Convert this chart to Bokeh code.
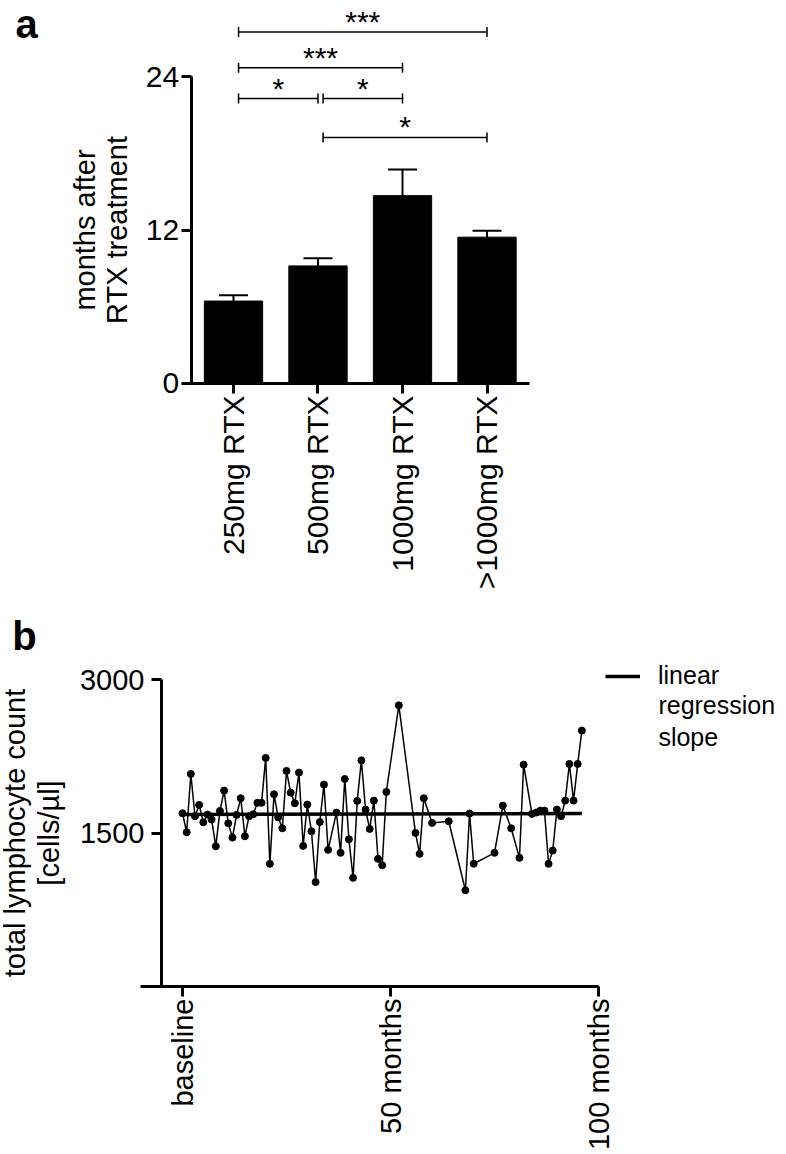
import math
from bokeh.plotting import figure
from bokeh.models import (FixedTicker, Whisker, TeeHead, ColumnDataSource, Label,
                          Legend, LegendItem, Range1d)
from bokeh.layouts import column
from bokeh.embed import file_html
from bokeh.resources import INLINE
from bokeh.core.properties import value

# ---------------- data ----------------
categories = ["250mg RTX", "500mg RTX", "1000mg RTX", ">1000mg RTX"]
months_mean = [6.45, 9.2, 14.7, 11.45]
months_sem = [0.45, 0.6, 2.05, 0.5]

comp_from = [0, 0, 0, 1, 1]
comp_to = [3, 2, 1, 2, 3]
comp_label = ["***", "***", "*", "*", "*"]

month = [0, 1, 2, 3, 4, 5, 6, 7, 8, 9, 10, 11, 12, 13, 14, 15, 16, 17, 18, 19,
         20, 21, 22, 23, 24, 25, 26, 27, 28, 29, 30, 31, 32, 33, 34, 35,
         37, 38, 39, 40, 41, 42, 43, 44, 45, 46, 47, 48, 49,
         52, 56, 57, 58, 60, 64, 68, 69, 70, 75, 77, 79, 81, 82,
         84, 85, 86, 87, 88, 89, 90, 91, 92, 93, 94, 95, 96]
lymphocytes = [1695, 1509, 2080, 1666, 1777, 1607, 1682, 1633, 1372, 1718,
               1917, 1597, 1457, 1679, 1842, 1470, 1666, 1685, 1797, 1797,
               2237, 1200, 1881, 1656, 1548, 2110, 1897, 1793, 2093, 1376,
               1780, 1519, 1022, 1609, 1976, 1337,
               1702, 1308, 2031, 1441, 1063, 1816, 2213, 1731, 1542, 1819,
               1249, 1186, 1904,
               2751, 1503, 1298, 1842, 1601, 1617, 942, 1692, 1201, 1308,
               1770, 1548, 1259, 2171,
               1689, 1702, 1721, 1721, 1200, 1330, 1731, 1666, 1819, 2178,
               1819, 2178, 2504]
# linear regression fit (value at first and last month)
regression_fit = [1683, 1693]

x_ticks_b = [0, 50, 100]
x_tick_labels_b = ["baseline", "50 months", "100 months"]
y_ticks_a = [0, 12, 24]
y_ticks_b = [1500, 3000]

# ---------------- layout constants ----------------
FONT = "Liberation Sans"
bracket_levels = [27.5, 24.7, 22.3, 22.3, 19.25]
bracket_inset = 0.06


def style_axes(p, tick_font, label_font, y_standoff):
    for ax in (p.xaxis[0], p.yaxis[0]):
        ax.axis_line_width = 3
        ax.axis_line_color = "black"
        ax.major_tick_line_width = 3
        ax.major_tick_line_color = "black"
        ax.major_tick_out = 10
        ax.major_tick_in = 0
        ax.minor_tick_line_color = None
        ax.major_label_text_font = FONT
        ax.major_label_text_font_size = tick_font
        ax.major_label_text_color = "black"
        ax.axis_label_text_font = FONT
        ax.axis_label_text_font_size = label_font
        ax.axis_label_text_font_style = "normal"
        ax.axis_label_text_color = "black"
    p.yaxis[0].major_label_standoff = y_standoff
    p.xaxis[0].major_label_standoff = 2
    p.xaxis[0].major_label_orientation = math.pi / 2
    p.xgrid.visible = False
    p.ygrid.visible = False
    p.outline_line_color = None


# ---------------- panel a ----------------
pa = figure(frame_width=786, frame_height=613,
            x_range=Range1d(-2.757, 6.544), y_range=Range1d(-18.0, 29.97),
            min_border_left=0, min_border_right=0, min_border_top=0,
            min_border_bottom=0, output_backend="svg", toolbar_location=None)

xs = list(range(len(categories)))
src_a = ColumnDataSource(dict(x=xs, top=months_mean,
                              upper=[m + s for m, s in zip(months_mean, months_sem)]))
pa.vbar(x="x", top="top", width=0.69, source=src_a, fill_color="black",
        line_color="black")
pa.add_layout(Whisker(source=src_a, base="x", lower="top", upper="upper",
                      lower_head=None,
                      upper_head=TeeHead(size=29, line_width=2, line_color="black"),
                      line_width=2, line_color="black"))

bx0 = [f + bracket_inset for f in comp_from]
bx1 = [t for t in comp_to]
src_br = ColumnDataSource(dict(x0=bx0, x1=bx1, y=bracket_levels,
                               xm=[(a + b) / 2 for a, b in zip(bx0, bx1)],
                               lab=comp_label))
pa.add_layout(Whisker(source=src_br, dimension="width", base="y", lower="x0",
                      upper="x1",
                      lower_head=TeeHead(size=10, line_width=1.5, line_color="black"),
                      upper_head=TeeHead(size=10, line_width=1.5, line_color="black"),
                      line_width=1.5, line_color="black"))
pa.text(x="xm", y="y", text="lab", source=src_br, text_align="center",
        text_baseline="bottom", y_offset=6, text_font=value(FONT),
        text_font_size="30px", text_color="black")

pa.xaxis[0].ticker = FixedTicker(ticks=xs)
pa.xaxis[0].major_label_overrides = {i: c for i, c in enumerate(categories)}
pa.xaxis[0].bounds = (-0.604, 3.503)
pa.xaxis[0].fixed_location = 0
pa.yaxis[0].ticker = FixedTicker(ticks=y_ticks_a)
pa.yaxis[0].bounds = (0, 24)
pa.yaxis[0].fixed_location = -0.5
pa.yaxis[0].axis_label = "months after\nRTX treatment"
pa.yaxis[0].axis_label_standoff = 10
pa.yaxis[0].axis_label_text_line_height = 1.0
style_axes(pa, "30px", "29px", 2)

pa.add_layout(Label(x=-2.58, y=28.1, text="a", text_font=FONT,
                    text_font_size="40px", text_font_style="bold",
                    text_color="black", text_baseline="middle",
                    text_align="left"))

# ---------------- panel b ----------------
pb = figure(frame_width=786, frame_height=373,
            x_range=Range1d(-43.75, 145.19), y_range=Range1d(0, 3650),
            min_border_left=0, min_border_right=0, min_border_top=0,
            min_border_bottom=164, output_backend="svg", toolbar_location=None)

src_b = ColumnDataSource(dict(m=month, v=lymphocytes))
pb.line("m", "v", source=src_b, line_color="black", line_width=1.5)
pb.scatter("m", "v", source=src_b, size=7, fill_color="black", line_color="black")

reg_x = [month[0], month[-1]]
reg = pb.line(reg_x, regression_fit, line_color="black", line_width=3.5)

pb.xaxis[0].ticker = FixedTicker(ticks=x_ticks_b)
pb.xaxis[0].major_label_overrides = dict(zip(x_ticks_b, x_tick_labels_b))
pb.xaxis[0].bounds = (-10.1, 100)
pb.yaxis[0].ticker = FixedTicker(ticks=y_ticks_b)
pb.yaxis[0].bounds = (0, 3000)
pb.yaxis[0].fixed_location = -5.05
pb.yaxis[0].axis_label = "total lymphocyte count\n[cells/\u00b5l]"
pb.yaxis[0].axis_label_standoff = 12
pb.yaxis[0].axis_label_text_line_height = 1.07
style_axes(pb, "29px", "29px", 7)

legend = Legend(items=[LegendItem(label="linear", renderers=[reg])],
                location=(605, 296), padding=0, margin=0, glyph_width=35,
                label_standoff=18, border_line_color=None,
                background_fill_alpha=0, label_text_font=FONT,
                label_text_color="black",
                label_text_font_size="25px", label_text_line_height=1.15)
pb.add_layout(legend)
pb.add_layout(Label(x=114.4, y=2595, text="regression\nslope", text_font=FONT,
                    text_font_size="25px", text_color="black",
                    text_line_height=1.15, text_baseline="middle",
                    text_align="left"))

pb.add_layout(Label(x=-40.9, y=3425, text="b", text_font=FONT,
                    text_font_size="40px", text_font_style="bold",
                    text_color="black", text_baseline="middle",
                    text_align="left"))

layout = column(pa, pb, spacing=0)
open("out.html", "w").write(file_html(layout, INLINE))
